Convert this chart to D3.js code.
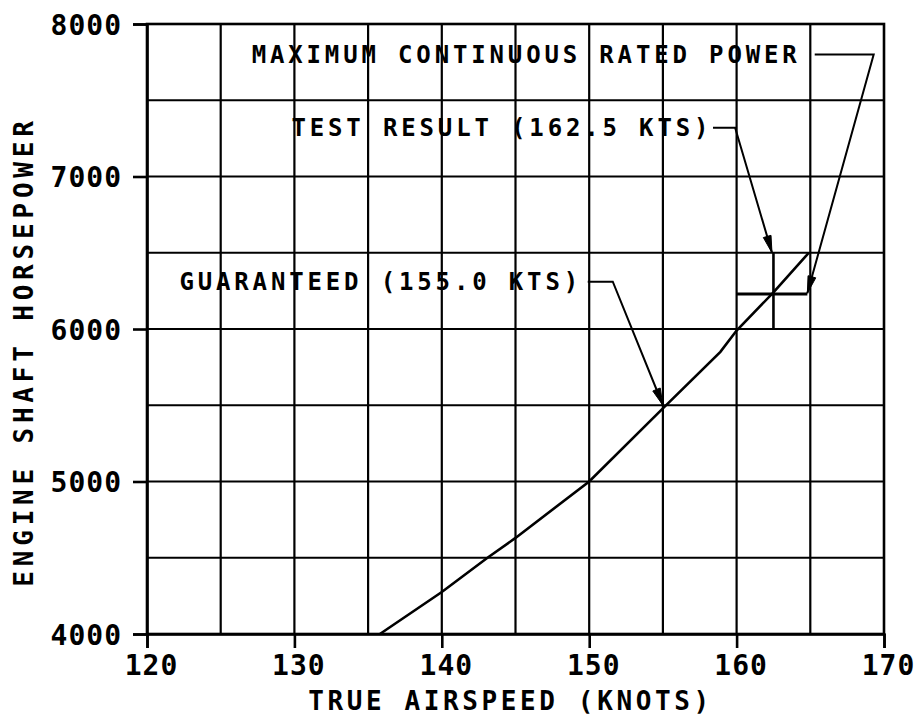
<!DOCTYPE html>
<html><head><meta charset="utf-8">
<script src="https://cdn.jsdelivr.net/npm/d3@7"></script>
<style>body{margin:0;background:#fff}</style></head>
<body>
<svg id="c" width="918" height="716"></svg>
<script>
// ---- data ----
const speed = [135.8, 140, 143.1, 145, 150, 155, 158.9, 160, 162.5, 164.9];
const power = [4000, 4275, 4500, 4630, 5000, 5480, 5850, 5990, 6240, 6500];
const xTicks = [120, 130, 140, 150, 160, 170];
const yTicks = [4000, 5000, 6000, 7000, 8000];
const xGrid = [125, 130, 135, 140, 145, 150, 155, 160, 165];
const yGrid = [4500, 5000, 5500, 6000, 6500, 7000, 7500];
const xTitle = "TRUE AIRSPEED (KNOTS)";
const yTitle = "ENGINE SHAFT HORSEPOWER";
// annotations: label, text anchor point, leader path points
const annLabels = ["MAXIMUM CONTINUOUS RATED POWER", "TEST RESULT (162.5 KTS)", "GUARANTEED (155.0 KTS)"];
const annTextPos = [[127.1, 7800], [129.8, 7320], [122.2, 6310]];
const annLeaders = [
  [[165.3, 7800], [169.3, 7800], [164.8, 6235]],
  [[158.4, 7320], [159.9, 7320], [162.4, 6500]],
  [[149.9, 6310], [151.6, 6310], [155.0, 5500]]
];
const testSpeed = 162.5, testRange = [6000, 6500];
const mcrpPower = 6230, mcrpRange = [160, 164.8];

// ---- drawing ----
const svg = d3.select("#c");
const W = 918, H = 716;
const m = {l: 147, r: 34, t: 24, b: 82};
const x = d3.scaleLinear().domain([120, 170]).range([m.l, W - m.r]);
const y = d3.scaleLinear().domain([4000, 8000]).range([H - m.b, m.t]);
const font = "'DejaVu Sans Mono', monospace";

const g = svg.append("g");
// grid
g.selectAll(".vg").data(xGrid).join("line")
  .attr("x1", d => x(d)).attr("x2", d => x(d))
  .attr("y1", y(8000)).attr("y2", y(4000))
  .attr("stroke", "#000").attr("stroke-width", 2.2);
g.selectAll(".hg").data(yGrid).join("line")
  .attr("x1", x(120)).attr("x2", x(170))
  .attr("y1", d => y(d)).attr("y2", d => y(d))
  .attr("stroke", "#000").attr("stroke-width", 2.2);
// frame
g.append("rect").attr("x", x(120)).attr("y", y(8000))
  .attr("width", x(170) - x(120)).attr("height", y(4000) - y(8000))
  .attr("fill", "none").attr("stroke", "#000").attr("stroke-width", 2.6);

// axes
const ax = g.append("g").attr("transform", `translate(0,${y(4000)})`)
  .call(d3.axisBottom(x).tickValues(xTicks).tickSize(14).tickPadding(7).tickFormat(d3.format("d")));
const ay = g.append("g").attr("transform", `translate(${x(120)},0)`)
  .call(d3.axisLeft(y).tickValues(yTicks).tickSize(14).tickPadding(11).tickFormat(d3.format("d")));
[ax, ay].forEach(a => {
  a.select(".domain").attr("stroke", "#000").attr("stroke-width", 2.6);
  a.selectAll(".tick line").attr("stroke", "#000").attr("stroke-width", 2.6);
  a.selectAll(".tick text").attr("fill", "#000")
    .style("font-family", font).style("font-weight", "bold").style("font-size", "28px")
    .style("letter-spacing", "1px");
});
ay.selectAll(".tick text").attr("dy", "0.36em");
ax.selectAll(".tick text").attr("dy", "0.72em").attr("dx", "4px");

// curve
const pts = speed.map((s, i) => [s, power[i]]);
g.append("path").datum(pts)
  .attr("d", d3.line().x(d => x(d[0])).y(d => y(d[1])))
  .attr("fill", "none").attr("stroke", "#000").attr("stroke-width", 2.6);

// test result vertical marker & MCRP horizontal marker
g.append("line").attr("x1", x(testSpeed)).attr("x2", x(testSpeed))
  .attr("y1", y(testRange[0])).attr("y2", y(testRange[1]))
  .attr("stroke", "#000").attr("stroke-width", 2.6);
g.append("line").attr("x1", x(mcrpRange[0])).attr("x2", x(mcrpRange[1]))
  .attr("y1", y(mcrpPower)).attr("y2", y(mcrpPower))
  .attr("stroke", "#000").attr("stroke-width", 3);

// annotations
annLabels.forEach((lab, i) => {
  g.append("text").text(lab)
    .attr("x", x(annTextPos[i][0])).attr("y", y(annTextPos[i][1]))
    .attr("dy", "0.36em")
    .style("font-family", font).style("font-size", "24px").style("font-weight", "bold")
    .style("letter-spacing", "3.85px").attr("fill", "#000");
  const p = annLeaders[i].map(d => [x(d[0]), y(d[1])]);
  g.append("path").attr("d", d3.line()(p))
    .attr("fill", "none").attr("stroke", "#000").attr("stroke-width", 2);
  // arrowhead on last segment
  const a = p[p.length - 2], b = p[p.length - 1];
  const ang = Math.atan2(b[1] - a[1], b[0] - a[0]);
  const L = 17, Wd = 4;
  const bx = b[0] - L * Math.cos(ang), by = b[1] - L * Math.sin(ang);
  const px = -Math.sin(ang) * Wd, py = Math.cos(ang) * Wd;
  g.append("path")
    .attr("d", `M${b[0]},${b[1]}L${bx + px},${by + py}L${bx - px},${by - py}Z`)
    .attr("fill", "#000").attr("stroke", "#000").attr("stroke-width", 1);
});

// axis titles
svg.append("text").text(xTitle)
  .attr("x", (x(120) + x(170)) / 2 - 5).attr("y", 710)
  .attr("text-anchor", "middle")
  .style("font-family", font).style("font-size", "26px").style("font-weight", "bold")
  .style("letter-spacing", "3.6px").attr("fill", "#000");
svg.append("text").text(yTitle)
  .attr("transform", `translate(33,${(113 + 590) / 2}) rotate(-90)`)
  .attr("text-anchor", "middle")
  .style("font-family", font).style("font-size", "26px").style("font-weight", "bold")
  .style("letter-spacing", "4.8px").attr("fill", "#000");
</script>
</body></html>
